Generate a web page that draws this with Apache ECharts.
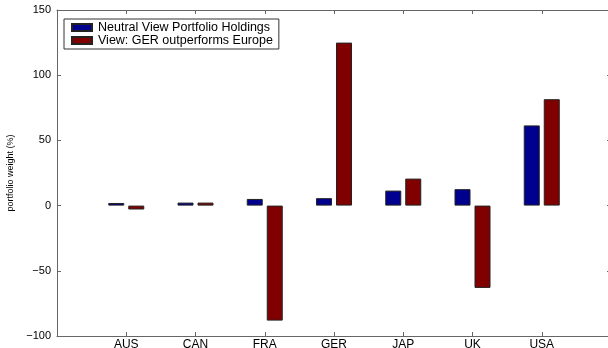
<!DOCTYPE html>
<html>
<head>
<meta charset="utf-8">
<script src="https://cdn.jsdelivr.net/npm/echarts@6/dist/echarts.min.js"></script>
<style>
  html, body { margin: 0; padding: 0; background: #fff; }
  #chart { width: 608px; height: 348px; }
</style>
</head>
<body>
<div id="chart"></div>
<script>
// Country categories and portfolio weights (%)
const countries = ['AUS', 'CAN', 'FRA', 'GER', 'JAP', 'UK', 'USA'];
const neutralWeights = [2.0, 2.3, 5.1, 5.7, 11.5, 12.6, 61.5];
const viewWeights = [-3.0, 2.3, -88.2, 125.0, 20.7, -63.1, 81.6];
const yTicks = { min: -100, max: 150, step: 50 };
const seriesNames = ['Neutral View Portfolio Holdings', 'View: GER outperforms Europe'];

const FONT = 'Liberation Sans, Arial, Helvetica, sans-serif';
const AXIS_COLOR = '#666';

// place each category at integer x = 1..n on a 0..n+1 value scale
const toPoints = vals => vals.map((v, i) => [i + 1, v]);

const xCommon = {
  type: 'value', min: 0, max: countries.length + 1, interval: 1,
  axisLine: { onZero: false, lineStyle: { color: AXIS_COLOR, width: 1 } },
  axisTick: { inside: true, length: 4, lineStyle: { color: AXIS_COLOR } },
  splitLine: { show: false }
};
const yCommon = {
  type: 'value', min: yTicks.min, max: yTicks.max, interval: yTicks.step,
  axisLine: { show: true, onZero: false, lineStyle: { color: AXIS_COLOR, width: 1 } },
  axisTick: { show: true, inside: true, length: 4, lineStyle: { color: AXIS_COLOR } },
  splitLine: { show: false }
};

const chart = echarts.init(document.getElementById('chart'), null, { renderer: 'canvas' });
chart.setOption({
  animation: false,
  backgroundColor: '#fff',
  textStyle: { fontFamily: FONT },
  grid: { left: 57, top: 10, width: 554, height: 326, containLabel: false, outerBoundsMode: 'none' },
  legend: {
    orient: 'vertical', left: 64, top: 19,
    data: seriesNames,
    icon: 'rect', itemWidth: 20, itemHeight: 7, itemGap: 0,
    padding: [2, 6, 2, 7],
    borderColor: '#333', borderWidth: 1, borderRadius: 0,
    backgroundColor: '#fff',
    textStyle: { fontFamily: FONT, fontSize: 12.5, color: '#000', lineHeight: 12, padding: [0, 0, 0, 1] }
  },
  xAxis: [
    Object.assign({}, xCommon, {
      position: 'bottom',
      axisLabel: {
        color: '#000', fontSize: 12, fontFamily: FONT, margin: 3,
        formatter: v => countries[v - 1] || ''
      }
    }),
    Object.assign({}, xCommon, { position: 'top', axisLabel: { show: false } })
  ],
  yAxis: [
    Object.assign({}, yCommon, {
      position: 'left',
      name: 'portfolio weight (%)',
      nameLocation: 'middle', nameRotate: 90, nameGap: 40,
      nameTextStyle: { fontSize: 9, color: '#000', fontFamily: FONT },
      axisLabel: {
        color: '#000', fontSize: 11, fontFamily: FONT, margin: 6,
        formatter: v => String(v).replace('-', '\u2212')
      }
    }),
    Object.assign({}, yCommon, { position: 'right', axisLabel: { show: false } })
  ],
  series: [
    {
      name: seriesNames[0], type: 'bar', xAxisIndex: 0, yAxisIndex: 0,
      data: toPoints(neutralWeights), barWidth: 16, barGap: '25%',
      itemStyle: { color: '#00008f', borderColor: '#222', borderWidth: 1 }
    },
    {
      name: seriesNames[1], type: 'bar', xAxisIndex: 0, yAxisIndex: 0,
      data: toPoints(viewWeights), barWidth: 16, barGap: '25%',
      itemStyle: { color: '#800000', borderColor: '#222', borderWidth: 1 }
    }
  ]
});
</script>
</body>
</html>
